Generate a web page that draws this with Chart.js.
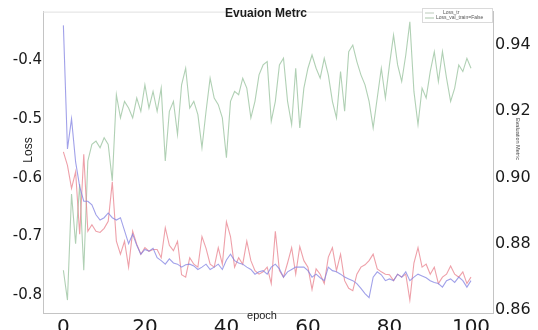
<!DOCTYPE html>
<html>
<head>
<meta charset="utf-8">
<script src="https://cdn.jsdelivr.net/npm/chart.js@4/dist/chart.umd.min.js"></script>
<style>
html,body{margin:0;padding:0;background:#fff;}
#wrap{width:538px;height:330px;position:relative;}
</style>
</head>
<body>
<div id="wrap"><canvas id="c" width="538" height="330"></canvas></div>
<script>
// ---- data ----
const epochs = Array.from({length: 101}, (_, i) => i);
const xTicks = [0, 20, 40, 60, 80, 100];
const lossTicks = [-0.8, -0.7, -0.6, -0.5, -0.4];
const metricTicks = [0.86, 0.88, 0.90, 0.92, 0.94];

const lossTr = [
 -0.556,-0.579,-0.618,-0.590,-0.696,-0.560,-0.691,-0.680,-0.691,-0.693,
 -0.686,-0.674,-0.607,-0.708,-0.730,-0.708,-0.752,-0.691,-0.713,-0.730,
 -0.719,-0.725,-0.722,-0.722,-0.736,-0.685,-0.715,-0.724,-0.708,-0.765,
 -0.769,-0.736,-0.747,-0.752,-0.700,-0.720,-0.747,-0.752,-0.719,-0.747,
 -0.675,-0.700,-0.752,-0.736,-0.747,-0.708,-0.741,-0.758,-0.764,-0.760,
 -0.752,-0.780,-0.691,-0.758,-0.769,-0.745,-0.719,-0.764,-0.717,-0.741,
 -0.752,-0.790,-0.755,-0.764,-0.780,-0.735,-0.719,-0.758,-0.730,-0.775,
 -0.788,-0.792,-0.764,-0.752,-0.748,-0.741,-0.730,-0.755,-0.760,-0.764,
 -0.765,-0.775,-0.764,-0.769,-0.764,-0.808,-0.745,-0.719,-0.752,-0.747,
 -0.764,-0.752,-0.780,-0.769,-0.764,-0.750,-0.764,-0.769,-0.760,-0.780,
 -0.769
];
const lossVal = [
 -0.341,-0.551,-0.500,-0.573,-0.615,-0.640,-0.640,-0.646,-0.663,-0.672,
 -0.668,-0.660,-0.668,-0.672,-0.668,-0.690,-0.712,-0.696,-0.715,-0.730,
 -0.722,-0.725,-0.720,-0.736,-0.741,-0.747,-0.738,-0.745,-0.747,-0.752,
 -0.748,-0.747,-0.750,-0.756,-0.752,-0.747,-0.756,-0.752,-0.747,-0.756,
 -0.740,-0.730,-0.741,-0.745,-0.747,-0.752,-0.756,-0.764,-0.760,-0.758,
 -0.764,-0.752,-0.747,-0.755,-0.769,-0.760,-0.756,-0.752,-0.752,-0.752,
 -0.758,-0.769,-0.764,-0.770,-0.775,-0.752,-0.758,-0.760,-0.764,-0.769,
 -0.772,-0.775,-0.780,-0.788,-0.797,-0.804,-0.769,-0.760,-0.765,-0.775,
 -0.772,-0.775,-0.764,-0.769,-0.760,-0.775,-0.769,-0.764,-0.767,-0.770,
 -0.775,-0.778,-0.780,-0.786,-0.775,-0.772,-0.778,-0.769,-0.775,-0.786,
 -0.775
];
const evalMetric = [
 0.872,0.863,0.895,0.880,0.898,0.872,0.905,0.910,0.911,0.909,
 0.912,0.910,0.899,0.925,0.918,0.923,0.921,0.918,0.924,0.920,
 0.928,0.921,0.926,0.920,0.927,0.905,0.920,0.923,0.913,0.928,
 0.933,0.921,0.923,0.919,0.909,0.920,0.930,0.924,0.922,0.918,
 0.906,0.923,0.926,0.925,0.930,0.927,0.918,0.923,0.931,0.934,
 0.935,0.917,0.923,0.934,0.936,0.923,0.916,0.933,0.915,0.927,
 0.933,0.937,0.933,0.930,0.936,0.931,0.923,0.918,0.932,0.920,
 0.938,0.940,0.935,0.931,0.928,0.923,0.915,0.924,0.933,0.924,
 0.934,0.943,0.934,0.929,0.937,0.947,0.926,0.916,0.927,0.924,
 0.932,0.938,0.929,0.938,0.930,0.923,0.927,0.934,0.932,0.936,
 0.933
];
const titleText = 'Evuaion Metrc';
const legendLabels = ['Loss_tr', 'Loss_val_train=False'];

// ---- chart ----
const pts = arr => arr.map((v, i) => ({x: epochs[i], y: v}));
const TICK = '#1a1a1a';
const AXIS = '#c4c4c4';

const textPlugin = {
  id: 'texts',
  afterDraw(chart) {
    const ctx = chart.ctx;
    const a = chart.chartArea;
    ctx.save();
    // top frame line
    ctx.strokeStyle = '#e0e0e0';
    ctx.lineWidth = 1;
    ctx.beginPath();
    ctx.moveTo(a.left, a.top + 0.5);
    ctx.lineTo(a.right, a.top + 0.5);
    ctx.stroke();
    // title
    ctx.fillStyle = '#1c1c1c';
    ctx.font = 'bold 12px "Liberation Sans", Arial, sans-serif';
    ctx.textAlign = 'center';
    ctx.textBaseline = 'top';
    ctx.fillText(titleText, 266, 8);
    // Loss label
    ctx.save();
    ctx.translate(29, 150);
    ctx.rotate(-Math.PI / 2);
    ctx.font = '12px "Liberation Sans", Arial, sans-serif';
    ctx.textBaseline = 'middle';
    ctx.fillText('Loss', 0, 0);
    ctx.restore();
    // epoch label
    ctx.font = '11px "Liberation Sans", Arial, sans-serif';
    ctx.textBaseline = 'middle';
    ctx.fillText('epoch', 262, 316);
    // right axis label
    ctx.save();
    ctx.translate(518, 139);
    ctx.rotate(Math.PI / 2);
    ctx.font = '5.5px "Liberation Sans", Arial, sans-serif';
    ctx.fillStyle = '#444';
    ctx.fillText('Evaluation Metric', 0, 0);
    ctx.restore();
    // legend
    const lx = 422, ly = 8, lw = a.right - 422, lh = 15;
    ctx.fillStyle = '#ffffff';
    ctx.fillRect(lx, ly, lw, lh);
    ctx.strokeStyle = '#dadada';
    ctx.strokeRect(lx + 0.5, ly + 0.5, lw - 1, lh - 1);
    const cols = ['#bccbbc', '#aac6ab'];
    ctx.font = '5px "Liberation Sans", Arial, sans-serif';
    ctx.textAlign = 'left';
    ctx.textBaseline = 'middle';
    [0, 1].forEach(k => {
      const yy = ly + 5 + k * 5;
      ctx.strokeStyle = cols[k];
      ctx.beginPath();
      ctx.moveTo(425, yy);
      ctx.lineTo(434, yy);
      ctx.stroke();
      ctx.fillStyle = '#555';
      ctx.fillText(legendLabels[k], k === 0 ? 443 : 436, yy);
    });
    ctx.restore();
  }
};

new Chart(document.getElementById('c'), {
  type: 'line',
  data: {
    datasets: [
      {label: legendLabels[0], data: pts(lossTr), yAxisID: 'y', borderColor: 'rgba(232,128,140,0.75)', borderWidth: 1.1, pointRadius: 0, tension: 0, order: 2},
      {label: legendLabels[1], data: pts(lossVal), yAxisID: 'y', borderColor: 'rgba(130,130,226,0.75)', borderWidth: 1.1, pointRadius: 0, tension: 0, order: 1},
      {label: 'Evaluation Metric', data: pts(evalMetric), yAxisID: 'y1', borderColor: 'rgba(150,192,155,0.75)', borderWidth: 1.1, pointRadius: 0, tension: 0, order: 3}
    ]
  },
  options: {
    responsive: false,
    animation: false,
    layout: {padding: {top: 8, left: 0, right: 0, bottom: 0}},
    plugins: {legend: {display: false}, title: {display: false}, tooltip: {enabled: false}},
    scales: {
      x: {
        type: 'linear', position: 'bottom', min: -5, max: 105.4,
        grid: {display: false, drawTicks: false},
        border: {display: true, color: AXIS},
        afterBuildTicks: s => { s.ticks = xTicks.map(v => ({value: v})); },
        afterFit: s => { s.height = 17; },
        ticks: {color: TICK, padding: 3, maxRotation: 0, font: {family: '"DejaVu Sans", sans-serif', size: 20}, callback: v => String(v)}
      },
      y: {
        type: 'linear', position: 'left', min: -0.830, max: -0.3176,
        grid: {display: false, drawTicks: false},
        border: {display: true, color: AXIS},
        afterBuildTicks: s => { s.ticks = lossTicks.map(v => ({value: v})); },
        afterFit: s => { s.width = 43; },
        ticks: {color: TICK, padding: 1, font: {family: '"DejaVu Sans", sans-serif', size: 15}, callback: v => v.toFixed(1)}
      },
      y1: {
        type: 'linear', position: 'right', min: 0.8591, max: 0.9501,
        grid: {display: false, drawTicks: false},
        border: {display: true, color: AXIS},
        afterBuildTicks: s => { s.ticks = metricTicks.map(v => ({value: v})); },
        afterFit: s => { s.width = 45; },
        ticks: {color: TICK, padding: 2, font: {family: '"DejaVu Sans", sans-serif', size: 16}, callback: v => v.toFixed(2)}
      }
    }
  },
  plugins: [textPlugin]
});
</script>
</body>
</html>
